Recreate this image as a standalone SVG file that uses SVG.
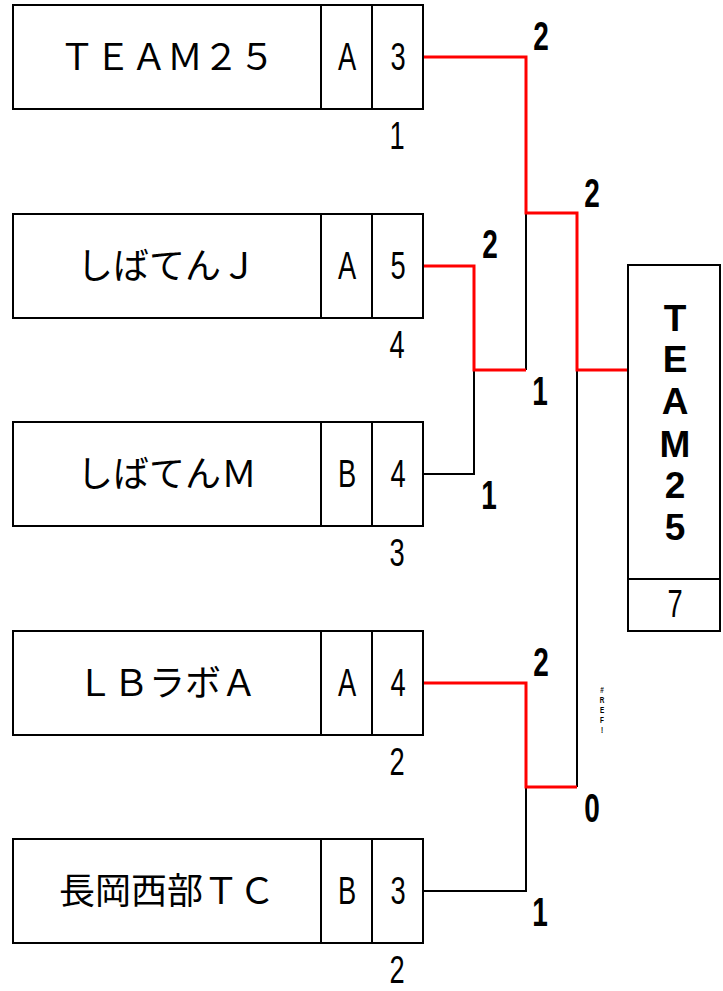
<svg xmlns="http://www.w3.org/2000/svg" width="723" height="991" viewBox="0 0 723 991">
<style>
.box{fill:#fff;stroke:#000;stroke-width:2}
.div{stroke:#000;stroke-width:2}
.name{font-family:"Noto Sans CJK JP","Liberation Sans",sans-serif;font-size:36px;text-anchor:middle;fill:#000}
.cond{font-family:"Liberation Sans",sans-serif;font-size:39px;text-anchor:middle;fill:#000}
.sc{font-family:"Liberation Sans",sans-serif;font-size:40px;font-weight:bold;text-anchor:middle;fill:#000}
.vt{font-family:"Liberation Sans",sans-serif;font-size:37px;font-weight:bold;text-anchor:middle;fill:#000}
.ref{font-family:"Liberation Sans",sans-serif;font-size:8.5px;font-weight:bold;text-anchor:middle;fill:#000}
.blk{fill:none;stroke:#000;stroke-width:2}
.red{fill:none;stroke:#f00;stroke-width:3}
</style>
<g id="connectors">
<path class="blk" d="M526,213 V370"/>
<path class="blk" d="M423,474 H474 V370"/>
<path class="blk" d="M577,787 V370"/>
<path class="blk" d="M423,891 H526 V787"/>
<path class="red" d="M423,57 H526 V213 H577 V370 H628"/>
<path class="red" d="M423,266 H474 V370 H526"/>
<path class="red" d="M423,683 H526 V787 H577"/>
</g>
<g id="team1">
<rect class="box" x="13" y="5" width="410" height="104"/>
<line class="div" x1="321" y1="5" x2="321" y2="109"/>
<line class="div" x1="372" y1="5" x2="372" y2="109"/>
<text class="name" x="167" y="70">ＴＥＡＭ２５</text>
<text class="cond" transform="translate(347,70) scale(0.7,1)">A</text>
<text class="cond" transform="translate(398,70) scale(0.7,1)">3</text>
<text class="cond" transform="translate(397,149) scale(0.7,1)">1</text>
</g>
<g id="team2">
<rect class="box" x="13" y="214" width="410" height="104"/>
<line class="div" x1="321" y1="214" x2="321" y2="318"/>
<line class="div" x1="372" y1="214" x2="372" y2="318"/>
<text class="name" x="167" y="279">しばてんＪ</text>
<text class="cond" transform="translate(347,279) scale(0.7,1)">A</text>
<text class="cond" transform="translate(398,279) scale(0.7,1)">5</text>
<text class="cond" transform="translate(397,358) scale(0.7,1)">4</text>
</g>
<g id="team3">
<rect class="box" x="13" y="422" width="410" height="104"/>
<line class="div" x1="321" y1="422" x2="321" y2="526"/>
<line class="div" x1="372" y1="422" x2="372" y2="526"/>
<text class="name" x="167" y="487">しばてんＭ</text>
<text class="cond" transform="translate(347,487) scale(0.7,1)">B</text>
<text class="cond" transform="translate(398,487) scale(0.7,1)">4</text>
<text class="cond" transform="translate(397,566) scale(0.7,1)">3</text>
</g>
<g id="team4">
<rect class="box" x="13" y="631" width="410" height="104"/>
<line class="div" x1="321" y1="631" x2="321" y2="735"/>
<line class="div" x1="372" y1="631" x2="372" y2="735"/>
<text class="name" x="167" y="696">ＬＢラボＡ</text>
<text class="cond" transform="translate(347,696) scale(0.7,1)">A</text>
<text class="cond" transform="translate(398,696) scale(0.7,1)">4</text>
<text class="cond" transform="translate(397,775) scale(0.7,1)">2</text>
</g>
<g id="team5">
<rect class="box" x="13" y="839" width="410" height="104"/>
<line class="div" x1="321" y1="839" x2="321" y2="943"/>
<line class="div" x1="372" y1="839" x2="372" y2="943"/>
<text class="name" x="167" y="904">長岡西部ＴＣ</text>
<text class="cond" transform="translate(347,904) scale(0.7,1)">B</text>
<text class="cond" transform="translate(398,904) scale(0.7,1)">3</text>
<text class="cond" transform="translate(397,983) scale(0.7,1)">2</text>
</g>
<g id="scores">
<text class="sc" transform="translate(541,50) scale(0.7,1)">2</text>
<text class="sc" transform="translate(592,207) scale(0.7,1)">2</text>
<text class="sc" transform="translate(490,258) scale(0.7,1)">2</text>
<text class="sc" transform="translate(540,405) scale(0.7,1)">1</text>
<text class="sc" transform="translate(489,509) scale(0.7,1)">1</text>
<text class="sc" transform="translate(541,676) scale(0.7,1)">2</text>
<text class="sc" transform="translate(592,822) scale(0.7,1)">0</text>
<text class="sc" transform="translate(540,926) scale(0.7,1)">1</text>
</g>
<g id="champion">
<rect class="box" x="628" y="265" width="92" height="366"/>
<line class="div" x1="628" y1="579" x2="720" y2="579"/>
<text class="vt" x="675" y="331">T</text>
<text class="vt" x="675" y="372">E</text>
<text class="vt" x="675" y="414">A</text>
<text class="vt" x="675" y="457">M</text>
<text class="vt" x="675" y="498">2</text>
<text class="vt" x="675" y="540">5</text>
<text class="cond" transform="translate(675,617) scale(0.7,1)">7</text>
</g>
<g id="ref">
<text class="ref" transform="translate(602,0) scale(0.75,1)"><tspan x="0" y="693">#</tspan><tspan x="0" y="703">R</tspan><tspan x="0" y="713">E</tspan><tspan x="0" y="723">F</tspan><tspan x="0" y="733">!</tspan></text>
</g>
</svg>
